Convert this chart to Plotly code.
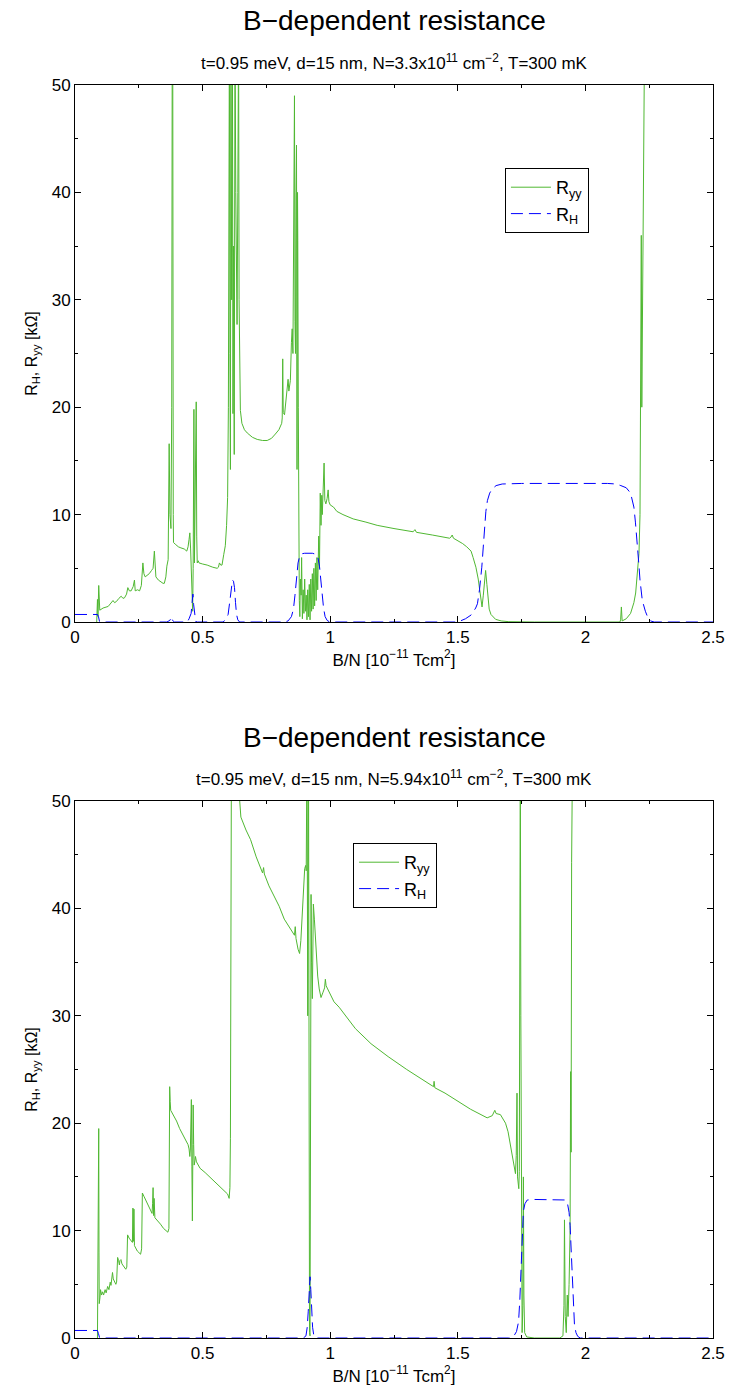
import plotly.graph_objects as go

# ---------------- data: panel 1 (N = 3.3e11) ----------------
p1_ryy_x = [0.085,0.088,0.090,0.093,0.097,0.11,0.13,0.14,0.149,0.155,0.162,0.172,0.181,0.188,0.194,0.202,0.207,0.213,0.22,0.228,0.233,0.236,0.245,0.253,0.26,0.266,0.27,0.275,0.285,0.291,0.3,0.306,0.311,0.314,0.317,0.327,0.337,0.345,0.35,0.356,0.36,0.365,0.369,0.372,0.376,0.379,0.381,0.383,0.385,0.386,0.395,0.405,0.415,0.428,0.438,0.443,0.447,0.45,0.453,0.458,0.461,0.463,0.466,0.468,0.471,0.475,0.477,0.479,0.483,0.486,0.5,0.518,0.54,0.557,0.562,0.566,0.571,0.576,0.583,0.589,0.594,0.598,0.601,0.605,0.607,0.609,0.611,0.614,0.617,0.619,0.621,0.624,0.627,0.63,0.632,0.635,0.638,0.641,0.643,0.645,0.648,0.654,0.664,0.675,0.695,0.714,0.735,0.753,0.77,0.785,0.799,0.81,0.812,0.814,0.816,0.821,0.826,0.831,0.835,0.838,0.844,0.848,0.851,0.854,0.857,0.86,0.862,0.864,0.866,0.868,0.870,0.872,0.873,0.875,0.877,0.879,0.881,0.883,0.886,0.888,0.891,0.894,0.897,0.9,0.903,0.906,0.909,0.912,0.915,0.918,0.921,0.924,0.927,0.93,0.933,0.936,0.939,0.942,0.945,0.948,0.951,0.955,0.958,0.961,0.964,0.967,0.969,0.972,0.976,0.979,0.983,0.988,0.992,0.995,1.0,1.013,1.026,1.05,1.09,1.14,1.184,1.25,1.313,1.325,1.332,1.338,1.4,1.468,1.473,1.478,1.483,1.5,1.519,1.535,1.545,1.552,1.56,1.571,1.58,1.586,1.591,1.595,1.6,1.605,1.609,1.614,1.618,1.623,1.63,1.64,1.648,1.67,1.7,1.8,2.0,2.135,2.138,2.141,2.144,2.16,2.177,2.19,2.197,2.204,2.21,2.214,2.217,2.219,2.221,2.224,2.228,2.232,2.24]
p1_ryy_y = [0,2.1,0.5,3.4,1.1,1.3,1.45,1.7,2.0,1.8,1.9,2.2,2.4,2.2,2.25,2.6,3.2,2.9,2.9,3.3,3.9,2.9,3.0,2.9,3.4,5.5,4.5,4.2,4.4,4.5,4.8,5.0,6.6,4.8,4.2,3.9,3.7,3.6,3.6,4.2,5.2,5.8,16.6,10,8.7,20,55,55,10,7.4,7.2,7.0,6.9,6.8,6.6,7.0,7.7,8.3,6.8,4,1.0,5,19.8,5.5,15,20.5,8,5.5,5.7,5.5,5.4,5.3,5.1,5.0,5.1,5.5,5.3,5.3,6.3,7.1,9,11.6,20,55,25,14.2,55,30,55,19.4,35,15.6,55,40,31.3,27.7,40,55,30,22,19.7,18.5,17.9,17.6,17.2,17.0,16.9,16.9,17.1,17.5,17.9,18.5,19,24.5,19.5,19.3,20.5,21,22.6,21.5,22.5,26,27.3,25,35,49,28,25,40,44.4,14.2,40,35.5,20,6.5,2,0.5,4,2.5,6,0.3,3,0.8,4,1,2.5,0.2,3,0.5,3.5,0.2,4,1,4.5,1.2,5,1.5,5.5,2,6,3,8,5,12,9,11.8,10,12,14.8,11.3,11,11.5,12.3,11.2,10.9,10.7,10.3,10.0,9.6,9.3,9.0,8.7,8.4,8.4,8.6,8.35,8.1,7.8,7.9,8.1,7.8,7.6,7.3,7.0,6.8,6.6,6.0,5.1,4.0,3.0,2.0,1.4,2.5,4.0,4.8,3.5,2.0,1.2,0.7,0.4,0.25,0.1,0.03,0,0,0,0.2,1.4,0.1,0.3,0.8,1.8,2.7,4.5,6.4,10,22,36,20,30,42,55,70]

p1_rh_x = [0,0.088,0.092,0.096,0.1,0.36,0.372,0.378,0.382,0.39,0.44,0.447,0.455,0.459,0.462,0.465,0.469,0.473,0.48,0.58,0.59,0.6,0.607,0.612,0.617,0.621,0.625,0.629,0.633,0.638,0.645,0.82,0.835,0.848,0.856,0.862,0.868,0.874,0.88,0.888,0.9,0.93,0.945,0.952,0.958,0.963,0.968,0.974,0.98,0.988,0.996,1.01,1.5,1.53,1.552,1.57,1.577,1.585,1.594,1.603,1.61,1.616,1.625,1.635,1.65,1.674,1.75,2.087,2.12,2.139,2.16,2.177,2.19,2.196,2.203,2.209,2.214,2.223,2.235,2.245,2.255,2.27,2.5]
p1_rh_y = [0.7,0.7,0.5,0.05,0,0,0.15,0.5,0.15,0,0,0.3,0.8,1.6,2.6,1.6,0.5,0.05,0,0,0.2,0.7,2,3.3,3.9,3.8,3.2,1.8,0.7,0.2,0,0,0.1,0.5,1.2,2.5,4.2,5.5,6.1,6.35,6.4,6.4,6.3,6.0,5.2,4.0,2.6,1.3,0.5,0.15,0.03,0,0,0.3,0.65,1.3,1.7,3.0,5.1,8.5,10.3,11.3,12.0,12.4,12.7,12.85,12.9,12.9,12.85,12.7,12.5,12.0,10.7,9.3,7.6,5.5,3.9,2.0,1.0,0.4,0.1,0,0]

# ---------------- data: panel 2 (N = 5.94e11) ----------------
p2_ryy_x = [0.088,0.091,0.093,0.094,0.095,0.098,0.1,0.104,0.108,0.112,0.118,0.122,0.128,0.133,0.138,0.141,0.144,0.147,0.15,0.155,0.16,0.163,0.167,0.171,0.174,0.176,0.18,0.184,0.19,0.199,0.203,0.206,0.212,0.22,0.225,0.227,0.229,0.231,0.233,0.244,0.257,0.261,0.264,0.27,0.283,0.295,0.302,0.304,0.306,0.308,0.31,0.313,0.321,0.335,0.347,0.358,0.364,0.368,0.37,0.371,0.373,0.375,0.385,0.398,0.41,0.424,0.435,0.443,0.447,0.45,0.452,0.456,0.458,0.46,0.462,0.463,0.465,0.467,0.47,0.472,0.476,0.49,0.51,0.527,0.545,0.566,0.585,0.598,0.604,0.607,0.609,0.611,0.613,0.63,0.65,0.67,0.688,0.71,0.735,0.739,0.742,0.76,0.778,0.8,0.82,0.842,0.855,0.86,0.863,0.866,0.874,0.88,0.885,0.89,0.895,0.9,0.904,0.906,0.909,0.912,0.915,0.917,0.919,0.921,0.923,0.925,0.927,0.93,0.932,0.934,0.938,0.942,0.946,0.951,0.957,0.964,0.972,0.978,0.981,0.984,0.99,1.0,1.015,1.035,1.07,1.099,1.16,1.227,1.3,1.36,1.405,1.407,1.41,1.45,1.485,1.55,1.615,1.635,1.645,1.65,1.667,1.687,1.697,1.706,1.713,1.719,1.726,1.729,1.732,1.734,1.737,1.739,1.741,1.743,1.745,1.747,1.75,1.752,1.755,1.757,1.759,1.762,1.77,1.8,1.9,1.912,1.916,1.918,1.921,1.925,1.929,1.932,1.936,1.94,1.942,1.944,1.946,1.949,1.955]
p2_ryy_y = [0,10,19.5,8,3.2,3.8,4.5,4.0,4.3,4.0,4.5,4.2,4.8,4.5,5.2,4.9,5.8,6.1,5.5,5.3,5.0,5.2,7.5,7.2,6.8,7.2,7.3,6.9,6.7,6.4,6.6,9.6,9.3,9.0,8.9,12.1,9,12.0,8.6,8.1,7.8,8.3,13.5,13.2,12.6,12.0,11.6,12.5,14.0,11.4,13,11.2,11.0,10.6,10.2,9.95,9.85,10.2,15,23.4,22,21.2,20.8,20.2,19.5,18.9,18.3,18.0,17.6,16.9,17.5,22.2,16,10.9,18,21.7,18,16.1,16.5,16.9,16.4,15.8,15.4,15.0,14.6,14.1,13.7,13.4,13.0,14,18.6,30,55,55,48.5,47.3,46.4,44.8,43.3,43.8,43.2,42.1,41.3,40.2,39.0,38.1,37.6,37.5,38.3,37.2,36.2,35.8,37,39.3,42,43.7,44.0,43.5,55,30,55,10,0.5,0.2,20,41.3,35,31.6,38,40.4,39,37.5,35,33.7,32.5,31.7,32.2,32.6,33.4,32.8,32.5,32.0,31.3,30.8,29.7,28.8,27.4,26.2,25.0,24.1,23.4,23.9,23.3,22.8,22.3,21.3,20.5,20.7,21.2,20.9,20.8,20.0,19.2,18.0,17.0,16.0,15.3,17,22.8,15,14.5,13.9,15.5,30,55,30,5,0.5,3,15,4,0.5,0.1,0,0,0.2,3,11.0,2,0.5,4,2,5,10,24.8,17.3,44.3,55,70]

p2_rh_x = [0,0.088,0.092,0.096,0.1,0.895,0.905,0.91,0.914,0.918,0.921,0.924,0.927,0.931,0.936,0.945,1.7,1.72,1.73,1.738,1.743,1.748,1.752,1.757,1.763,1.772,1.8,1.9,1.922,1.93,1.936,1.94,1.944,1.948,1.952,1.957,1.963,1.97,1.98,2.5]
p2_rh_y = [0.7,0.7,0.4,0.05,0,0,0.2,1.0,2.5,4.5,5.7,4.5,2.5,1.0,0.2,0,0,0.2,0.6,1.5,3.5,7,10,11.8,12.5,12.85,12.9,12.9,12.85,12.5,11.7,10.5,8,5.5,3,1.3,0.5,0.15,0,0]

titles = ["B\u2212dependent resistance", "B\u2212dependent resistance"]
subtitles = ["t=0.95 meV, d=15 nm, N=3.3x10<sup>11</sup> cm<sup>\u22122</sup>, T=300 mK",
             "t=0.95 meV, d=15 nm, N=5.94x10<sup>11</sup> cm<sup>\u22122</sup>, T=300 mK"]
x_title = "B/N [10<sup>\u221211</sup> Tcm<sup>2</sup>]"
y_title = "R<sub>H</sub>, R<sub>yy</sub> [k\u03a9]"

GREEN = "rgb(80,184,50)"
BLUE = "rgb(0,0,255)"
FONT = "Liberation Sans, Arial, Helvetica, sans-serif"
DASH = "12px,6px"

fig = go.Figure()
fig.add_trace(go.Scatter(x=p1_ryy_x, y=p1_ryy_y, mode="lines", name="R<sub>yy</sub>",
                         line=dict(color=GREEN, width=1), xaxis="x", yaxis="y", legend="legend"))
fig.add_trace(go.Scatter(x=p1_rh_x, y=p1_rh_y, mode="lines", name="R<sub>H</sub>",
                         line=dict(color=BLUE, width=1, dash=DASH), xaxis="x", yaxis="y", legend="legend"))
fig.add_trace(go.Scatter(x=p2_ryy_x, y=p2_ryy_y, mode="lines", name="R<sub>yy</sub>",
                         line=dict(color=GREEN, width=1), xaxis="x2", yaxis="y2", legend="legend2"))
fig.add_trace(go.Scatter(x=p2_rh_x, y=p2_rh_y, mode="lines", name="R<sub>H</sub>",
                         line=dict(color=BLUE, width=1, dash=DASH), xaxis="x2", yaxis="y2", legend="legend2"))

def xax(anchor):
    return dict(range=[0, 2.5], dtick=0.5, tick0=0, ticks="inside", ticklen=6, tickcolor="black",
                showline=True, linecolor="black", linewidth=1, mirror="ticks", showgrid=False, zeroline=False,
                minor=dict(dtick=0.25, ticks="inside", ticklen=3, tickcolor="black"),
                tickfont=dict(size=17, color="black", family=FONT),
                title=dict(text=x_title, font=dict(size=17, color="black", family=FONT), standoff=4),
                anchor=anchor)

def yax(domain, anchor):
    return dict(range=[0, 50], dtick=10, ticks="inside", ticklen=6, tickcolor="black",
                showline=True, linecolor="black", linewidth=1, mirror="ticks", showgrid=False, zeroline=False,
                minor=dict(dtick=5, ticks="inside", ticklen=3, tickcolor="black"),
                tickfont=dict(size=17, color="black", family=FONT),
                title=dict(text=y_title, font=dict(size=16, color="black", family=FONT), standoff=10),
                domain=domain, anchor=anchor)

H = 1396
top_px, bot_px = 85, 58
plot_h = H - top_px - bot_px
def py(pix):
    return (H - bot_px - pix) / plot_h

legend_style = dict(xanchor="left", yanchor="top", bordercolor="black", borderwidth=1, bgcolor="white",
                    font=dict(size=18, family=FONT, color="black"), itemwidth=40, tracegroupgap=0)

fig.update_layout(
    width=737, height=H,
    margin=dict(l=75, r=15, t=top_px, b=bot_px),
    plot_bgcolor="white", paper_bgcolor="white",
    font=dict(family=FONT, color="black"),
    xaxis=xax("y"), yaxis=yax([py(622), 1], "x"),
    xaxis2=xax("y2"), yaxis2=yax([0, py(801)], "x2"),
    legend=dict(x=(511 - 75) / 647, y=py(168), **legend_style),
    legend2=dict(x=(357 - 75) / 647, y=py(843), **legend_style),
    showlegend=True,
)

ann = []
for t_pix, s_pix, t, s in [(21, 62, titles[0], subtitles[0]), (737, 778, titles[1], subtitles[1])]:
    ann.append(dict(text=t, x=0.5, y=py(t_pix), xref="paper", yref="paper", showarrow=False,
                    xanchor="center", yanchor="middle", font=dict(size=28, family=FONT, color="black")))
    ann.append(dict(text=s, x=0.5, y=py(s_pix), xref="paper", yref="paper", showarrow=False,
                    xanchor="center", yanchor="middle", font=dict(size=17, family=FONT, color="black")))
fig.update_layout(annotations=ann)

fig.write_html("out.html")
